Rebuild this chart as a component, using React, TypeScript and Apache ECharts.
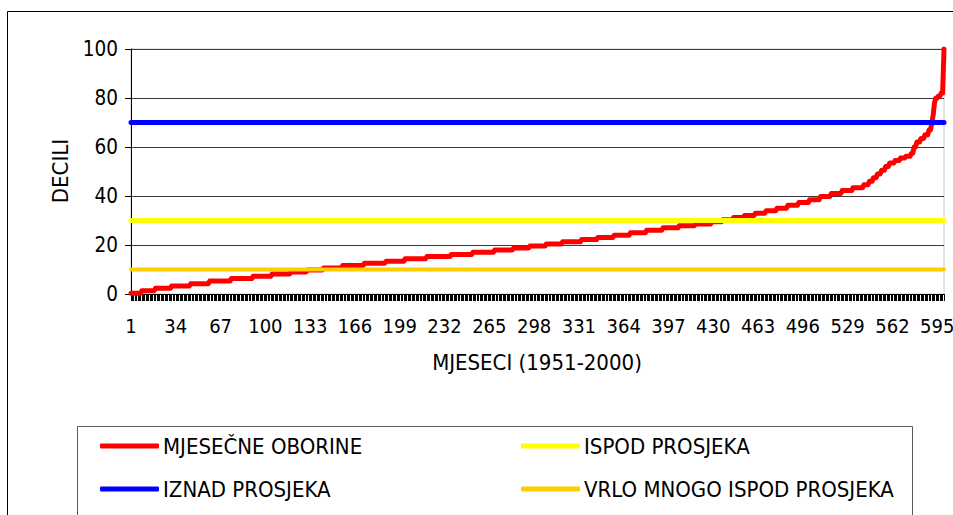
import React, { useEffect, useRef } from "react";
import * as echarts from "echarts";

// Sorted monthly precipitation deciles, stored as runs: each value holds for the given number of months.
const RUN_VALUES = [
  0.3, 1.3, 2.3, 3.3, 4.2, 5.3, 6.3, 7.2, 8.2, 9.0, 9.8,
  10.6, 11.6, 12.6, 13.4, 14.4, 15.3, 16.1, 17.0, 18.0, 18.8,
  19.6, 20.4, 21.3, 22.2, 23.1, 24.0, 25.0, 26.0, 27.0, 27.9, 28.6,
  29.5, 30.3, 31.2, 32.0, 33.0, 34.0, 35.0, 36.2, 37.3, 38.5, 39.8, 41.0, 42.2, 43.4,
  44.6, 46.0, 47.5, 49.0, 50.5, 52.0, 53.5, 54.5, 55.5, 56.2,
  57.5, 60.0, 62.0, 63.5, 65.0, 67.0, 69.5, 73.0, 78.0, 80.0, 80.8, 82.0, 100.0,
];
const RUN_LENGTHS = [
  8, 10, 12, 14, 14, 16, 16, 14, 14, 12, 12,
  14, 16, 16, 14, 16, 18, 16, 16, 14, 12,
  12, 12, 14, 12, 12, 12, 12, 12, 12, 12, 12,
  8, 8, 8, 8, 8, 8, 8, 8, 8, 8, 8, 8, 8, 8,
  4, 3, 3, 3, 3, 3, 4, 4, 4, 4,
  2, 2, 3, 3, 3, 2, 1, 1, 1, 2, 2, 2, 1,
];

// Threshold levels (deciles)
const IZNAD_PROSJEKA = 70;
const ISPOD_PROSJEKA = 30;
const VRLO_MNOGO_ISPOD = 10;

const MONTH_COUNT = 600; // 1951-2000
const LABEL_STEP = 33; // month labels 1, 34, 67, ... 595
const Y_TICKS = [0, 20, 40, 60, 80, 100];

const FONT = "'DejaVu Sans Condensed', 'DejaVu Sans', sans-serif";

const months: string[] = Array.from({ length: MONTH_COUNT }, (_, i) => String(i + 1));
const precipitation: number[] = RUN_VALUES.flatMap((v, i) => Array(RUN_LENGTHS[i]).fill(v));
const level = (v: number) => months.map(() => v);

export default function App() {
  const ref = useRef<HTMLDivElement>(null);

  useEffect(() => {
    if (!ref.current) return;
    const chart = echarts.init(ref.current, null, { renderer: "svg" });

    const lineSeries = (name: string, data: number[], color: string, width: number) => ({
      name,
      type: "line",
      data,
      symbol: "none",
      silent: true,
      color,
      lineStyle: { color, width, cap: "round", join: "round" },
    });

    const legendBase = {
      orient: "vertical",
      selectedMode: false,
      icon: "roundRect",
      itemWidth: 59,
      itemHeight: 5,
      itemGap: 21,
      padding: 0,
      textStyle: { fontFamily: FONT, fontSize: 22, color: "#000", padding: [0, 0, 0, -1] },
    };

    chart.setOption({
      animation: false,
      backgroundColor: "#fff",
      grid: {
        left: 131,
        right: 9,
        top: 49,
        bottom: 221,
        show: true,
        borderColor: "#c8c8c8",
        borderWidth: 1,
        containLabel: false,
        outerBoundsMode: "none",
      },
      xAxis: {
        type: "category",
        data: months,
        boundaryGap: false,
        axisLine: { show: true, lineStyle: { color: "#000", width: 1 } },
        axisTick: { show: true, interval: 0, length: 7, lineStyle: { color: "#000", width: 1 } },
        axisLabel: {
          interval: (idx: number) => idx % LABEL_STEP === 0,
          hideOverlap: false,
          margin: 22,
          fontFamily: FONT,
          fontSize: 20,
          color: "#000",
        },
        splitLine: { show: false },
      },
      yAxis: {
        type: "value",
        min: Y_TICKS[0],
        max: Y_TICKS[Y_TICKS.length - 1],
        interval: 20,
        axisLine: { show: true, lineStyle: { color: "#000", width: 1 } },
        axisTick: { show: true, length: 6, lineStyle: { color: "#000" } },
        axisLabel: { margin: 13, fontFamily: FONT, fontSize: 20.5, color: "#000" },
        splitLine: { show: true, lineStyle: { color: "#3a3a3a", width: 1 } },
      },
      legend: [
        { ...legendBase, left: 100, top: 435, data: ["MJESEČNE OBORINE", "IZNAD PROSJEKA"] },
        { ...legendBase, left: 521, top: 435, data: ["ISPOD PROSJEKA", "VRLO MNOGO ISPOD PROSJEKA"] },
      ],
      graphic: [
        {
          type: "rect",
          shape: { x: 7.5, y: 11.5, width: 960, height: 520 },
          style: { fill: "none", stroke: "#000", lineWidth: 1 },
          silent: true,
          z: -1,
        },
        {
          type: "rect",
          shape: { x: 77.5, y: 426.5, width: 835, height: 120 },
          style: { fill: "none", stroke: "#5a5a5a", lineWidth: 1 },
          silent: true,
        },
        {
          type: "text",
          x: 537,
          y: 362,
          style: {
            text: "MJESECI (1951-2000)",
            fontFamily: FONT,
            fontSize: 22,
            fill: "#000",
            align: "center",
            verticalAlign: "middle",
          },
          silent: true,
        },
        {
          type: "text",
          x: 60,
          y: 171,
          rotation: Math.PI / 2,
          style: {
            text: "DECILI",
            fontFamily: FONT,
            fontSize: 22,
            fill: "#000",
            align: "center",
            verticalAlign: "middle",
          },
          silent: true,
        },
      ],
      series: [
        lineSeries("MJESEČNE OBORINE", precipitation, "#ff0000", 5),
        lineSeries("ISPOD PROSJEKA", level(ISPOD_PROSJEKA), "#ffff00", 5),
        lineSeries("IZNAD PROSJEKA", level(IZNAD_PROSJEKA), "#0000ff", 5),
        lineSeries("VRLO MNOGO ISPOD PROSJEKA", level(VRLO_MNOGO_ISPOD), "#ffcc00", 4),
      ],
    });

    return () => chart.dispose();
  }, []);

  return (
    <div
      ref={ref}
      style={{ position: "fixed", left: 0, top: 0, width: 953, height: 515, background: "#fff" }}
    />
  );
}
